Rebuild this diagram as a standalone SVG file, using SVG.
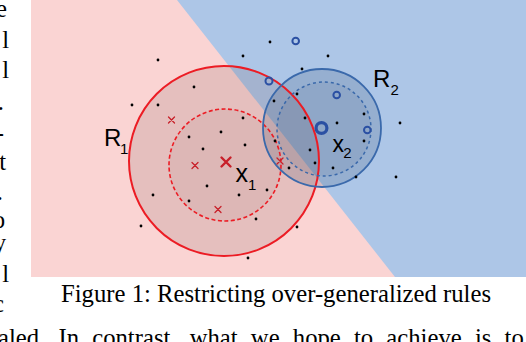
<svg xmlns="http://www.w3.org/2000/svg" width="526" height="342" viewBox="0 0 526 342">
<style>
.dot{fill:#000}
.lbl{font-family:"Liberation Sans",Arial,sans-serif;fill:#000}
.serif{font-family:"Liberation Serif","Times New Roman",serif;fill:#000}
.frag{font-family:"Liberation Serif","Times New Roman",serif;fill:#000;font-size:24.7px;text-anchor:end}
.xr{stroke:#c8202a;stroke-linecap:round;fill:none}
.ob{fill:none;stroke:#2b50a3}
</style>
<rect width="526" height="342" fill="#fff"/>
<g id="background">
<rect x="31" y="0" width="495" height="277" fill="#fad4d3"/>
<polygon points="177,0 526,0 526,277 395,277" fill="#adc6e7"/>
</g>
<g id="region-fills">
<circle cx="224" cy="161" r="95" fill="#7a5a5a" fill-opacity="0.17"/>
<circle cx="225" cy="165" r="56" fill="#7a5a5a" fill-opacity="0.08"/>
<circle cx="322" cy="128" r="59" fill="#34496a" fill-opacity="0.18"/>
<circle cx="324" cy="129" r="47" fill="#34496a" fill-opacity="0.07"/>
</g>
<g id="R1">
<circle cx="224" cy="161" r="95" fill="none" stroke="#ec1c24" stroke-width="2"/>
<circle cx="225" cy="165" r="56" fill="none" stroke="#ec1c24" stroke-width="1.6" stroke-dasharray="4 2.5"/>
<text class="lbl" x="104" y="146" font-size="24">R</text>
<text class="lbl" x="120" y="154" font-size="15">1</text>
</g>
<g id="R2">
<circle cx="322" cy="128" r="59" fill="none" stroke="#3a69ab" stroke-width="1.8"/>
<circle cx="324" cy="129" r="47" fill="none" stroke="#3a69ab" stroke-width="1.5" stroke-dasharray="3 3"/>
<text class="lbl" x="373" y="87" font-size="24">R</text>
<text class="lbl" x="390.5" y="95" font-size="15">2</text>
</g>
<g id="dots">
<circle class="dot" cx="158" cy="60" r="1.4"/>
<circle class="dot" cx="132" cy="105" r="1.4"/>
<circle class="dot" cx="158" cy="105" r="1.4"/>
<circle class="dot" cx="270" cy="42" r="1.4"/>
<circle class="dot" cx="243" cy="56" r="1.4"/>
<circle class="dot" cx="328" cy="56" r="1.4"/>
<circle class="dot" cx="302" cy="69" r="1.4"/>
<circle class="dot" cx="194" cy="87" r="1.4"/>
<circle class="dot" cx="297" cy="94" r="1.4"/>
<circle class="dot" cx="274" cy="101" r="1.4"/>
<circle class="dot" cx="243" cy="118" r="1.4"/>
<circle class="dot" cx="221" cy="132" r="1.4"/>
<circle class="dot" cx="189" cy="137" r="1.4"/>
<circle class="dot" cx="305" cy="118" r="1.4"/>
<circle class="dot" cx="337" cy="123" r="1.4"/>
<circle class="dot" cx="364" cy="114" r="1.4"/>
<circle class="dot" cx="400" cy="123" r="1.4"/>
<circle class="dot" cx="153" cy="195" r="1.4"/>
<circle class="dot" cx="141" cy="226" r="1.4"/>
<circle class="dot" cx="203" cy="149" r="1.4"/>
<circle class="dot" cx="245" cy="145" r="1.4"/>
<circle class="dot" cx="275" cy="141" r="1.4"/>
<circle class="dot" cx="310" cy="150" r="1.4"/>
<circle class="dot" cx="315" cy="163" r="1.4"/>
<circle class="dot" cx="333" cy="168" r="1.4"/>
<circle class="dot" cx="289" cy="168" r="1.4"/>
<circle class="dot" cx="207" cy="186" r="1.4"/>
<circle class="dot" cx="239" cy="195" r="1.4"/>
<circle class="dot" cx="267" cy="190" r="1.4"/>
<circle class="dot" cx="189" cy="201" r="1.4"/>
<circle class="dot" cx="256" cy="219" r="1.4"/>
<circle class="dot" cx="297" cy="227" r="1.4"/>
<circle class="dot" cx="248" cy="258" r="1.4"/>
<circle class="dot" cx="356" cy="177" r="1.4"/>
<circle class="dot" cx="364" cy="141" r="1.4"/>
<circle class="dot" cx="396" cy="177" r="1.4"/>
</g>
<g id="red-crosses">
<path class="xr" stroke-width="2.4" d="M221.5,157.5 L230.5,166.5 M230.5,157.5 L221.5,166.5"/>
<path class="xr" stroke-width="1.3" d="M168.5,117 L174.5,123 M174.5,117 L168.5,123"/>
<path class="xr" stroke-width="1.3" d="M192,162.5 L198,168.5 M198,162.5 L192,168.5"/>
<path class="xr" stroke-width="1.3" stroke="#9a1c22" d="M215,206.5 L221,212.5 M221,206.5 L215,212.5"/>
<path class="xr" stroke-width="1.3" d="M277,158 L283,164 M283,158 L277,164"/>
</g>
<g id="blue-circles">
<circle class="ob" cx="295.7" cy="41" r="3.3" stroke-width="2"/>
<circle class="ob" cx="269" cy="81" r="3.5" stroke-width="2"/>
<circle class="ob" cx="336.7" cy="95" r="3.3" stroke-width="2"/>
<circle class="ob" cx="367.3" cy="130" r="3.3" stroke-width="2"/>
<circle class="ob" cx="321.5" cy="128" r="5.4" stroke-width="3.2"/>
</g>
<g id="point-labels">
<text class="lbl" x="235.5" y="182.3" font-size="25">x</text>
<text class="lbl" x="248" y="190" font-size="15">1</text>
<text class="lbl" x="332.5" y="151.7" font-size="23">x</text>
<text class="lbl" x="343.3" y="158.3" font-size="15">2</text>
</g>
<g id="caption">
<text class="serif" x="61" y="301.5" font-size="24.7">Figure 1: Restricting over-generalized rules</text>
</g>
<g id="page-text">
<text class="frag" x="7" y="17">e</text>
<text class="frag" x="9" y="48">l</text>
<text class="frag" x="9" y="78">l</text>
<text class="frag" x="4" y="110">.</text>
<text class="frag" x="4" y="141">-</text>
<text class="frag" x="6" y="170">t</text>
<text class="frag" x="3" y="200">.</text>
<text class="frag" x="5" y="228">o</text>
<text class="frag" x="6" y="251" font-size="18">y</text>
<text class="frag" x="9" y="282">l</text>
<text class="frag" x="4" y="312">c</text>
<text class="serif" x="-2" y="346" font-size="24.7" word-spacing="7">aled.  In contrast, what we hope to achieve is to</text>
</g>
</svg>
